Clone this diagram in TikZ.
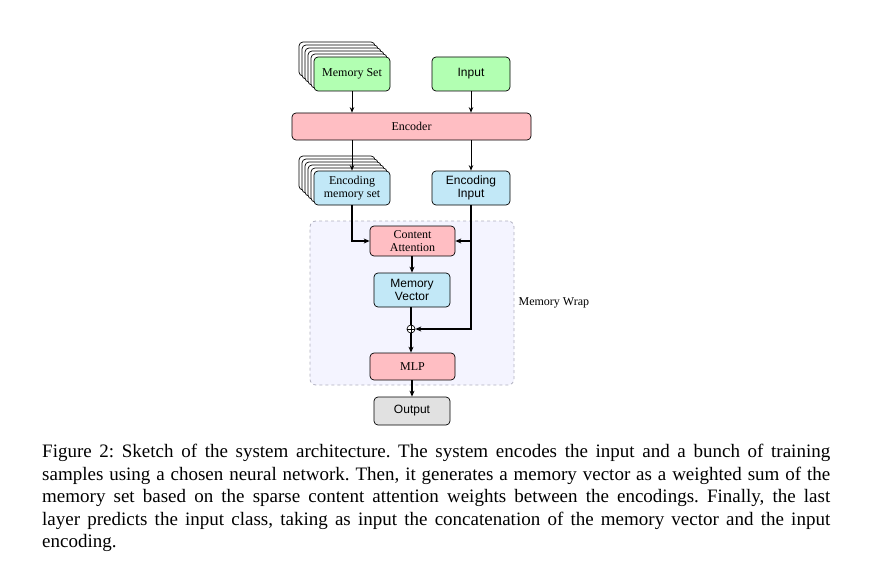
\documentclass[tikz,border=0pt]{standalone}
\usepackage{fontspec}
\setmainfont{Liberation Serif}
\setsansfont{Liberation Sans}
\usetikzlibrary{arrows.meta}
\definecolor{cgreen}{RGB}{178,255,178}
\definecolor{cpink}{RGB}{255,190,195}
\definecolor{cblue}{RGB}{194,232,247}
\definecolor{cgray}{RGB}{225,225,225}
\definecolor{cwrap}{RGB}{244,244,255}
\definecolor{cwrapline}{RGB}{175,175,190}
\begin{document}
\begin{tikzpicture}[x=1pt,y=-1pt,
  box/.style={draw=black, line width=0.7pt, rounded corners=4pt, align=center, inner sep=1pt,
    font=\fontsize{12}{13.5}\selectfont},
  sbox/.style={box, font=\sffamily\fontsize{12}{13.5}\selectfont},
  shadowbox/.style={draw=black, line width=0.7pt, rounded corners=4pt, fill=white},
  thinarrow/.style={line width=0.8pt, -{Stealth[length=5.5pt,width=4.5pt]}},
  thickarrow/.style={line width=1.5pt, -{Stealth[length=6pt,width=5pt]}},
  thickline/.style={line width=1.5pt}]
\useasboundingbox (0,0) rectangle (872,575);

% Memory Wrap background
\node[draw=cwrapline, dashed, line width=0.8pt, fill=cwrap, rounded corners=6pt,
  minimum width=204pt, minimum height=164pt, inner sep=0] (wrap) at (412,303) {};
\node[anchor=west, inner sep=0, font=\fontsize{12}{13.5}\selectfont] (wraplabel) at ([xshift=4pt]wrap.east) {Memory Wrap};

% stacked shadows
\foreach \k in {5,4,3,2,1} {
  \draw[shadowbox] ({314-3*\k},{57-3*\k}) rectangle ++(76,34);
  \draw[shadowbox] ({314-3*\k},{171-3*\k}) rectangle ++(76,34);
}

\node[box, fill=cgreen, minimum width=76pt, minimum height=34pt] (ms) at (352,74) {Memory Set};
\node[sbox, fill=cgreen, minimum width=78pt, minimum height=34pt] (in) at (471,74) {Input};
\node[box, fill=cpink, minimum width=239pt, minimum height=27pt] (enc) at (411.5,126.5) {Encoder};
\node[box, fill=cblue, minimum width=76pt, minimum height=34pt] (ems) at (352,188) {Encoding\\memory set};
\node[sbox, fill=cblue, minimum width=78pt, minimum height=34pt] (ei) at (471,188) {Encoding\\Input};
\node[box, fill=cpink, minimum width=85pt, minimum height=30pt] (ca) at (412.5,241) {Content\\Attention};
\node[sbox, fill=cblue, minimum width=76pt, minimum height=34pt] (mv) at (412,290) {Memory\\Vector};
\node[circle, draw=black, line width=0.7pt, fill=white, inner sep=0, minimum size=8pt] (plus) at (411,329) {};
\draw[line width=0.6pt] (plus.north) -- (plus.south) (plus.west) -- (plus.east);
\node[box, fill=cpink, minimum width=85pt, minimum height=27pt] (mlp) at (412.5,366.5) {MLP};
\node[sbox, fill=cgray, minimum width=76pt, minimum height=28pt] (out) at (412,411) {Output};

% connectors
\draw[thinarrow] (ms.south) -- (ms.south |- enc.north);
\draw[thinarrow] (in.south) -- (in.south |- enc.north);
\draw[thinarrow] (enc.south -| ems.north) -- (ems.north);
\draw[thinarrow] (enc.south -| ei.north) -- (ei.north);
\draw[thickarrow] (ems.south) |- (ca.west);
\draw[thickarrow] (ei.south) |- (ca.east);
\draw[thickarrow] (ei.south) |- (plus.east);
\draw[thickarrow] (ca.south -| mv.north) -- (mv.north);
\draw[thickline] (mv.south -| plus.north) -- (plus.north);
\draw[thickarrow] (plus.south) -- (plus.south |- mlp.north);
\draw[thickarrow] (mlp.south -| out.north) -- (out.north);

% caption
\node[anchor=north west, inner sep=0, text width=788pt, align=justify,
  font=\fontsize{19}{22.6}\selectfont\frenchspacing] (cap) at (42,444)
  {Figure 2: Sketch of the system architecture. The system encodes the input and a bunch of training\linebreak
   samples using a chosen neural network. Then, it generates a memory vector as a weighted sum of the\linebreak
   memory set based on the sparse content attention weights between the encodings. Finally, the last\linebreak
   layer predicts the input class, taking as input the concatenation of the memory vector and the input\linebreak
   encoding.};
\end{tikzpicture}
\end{document}
